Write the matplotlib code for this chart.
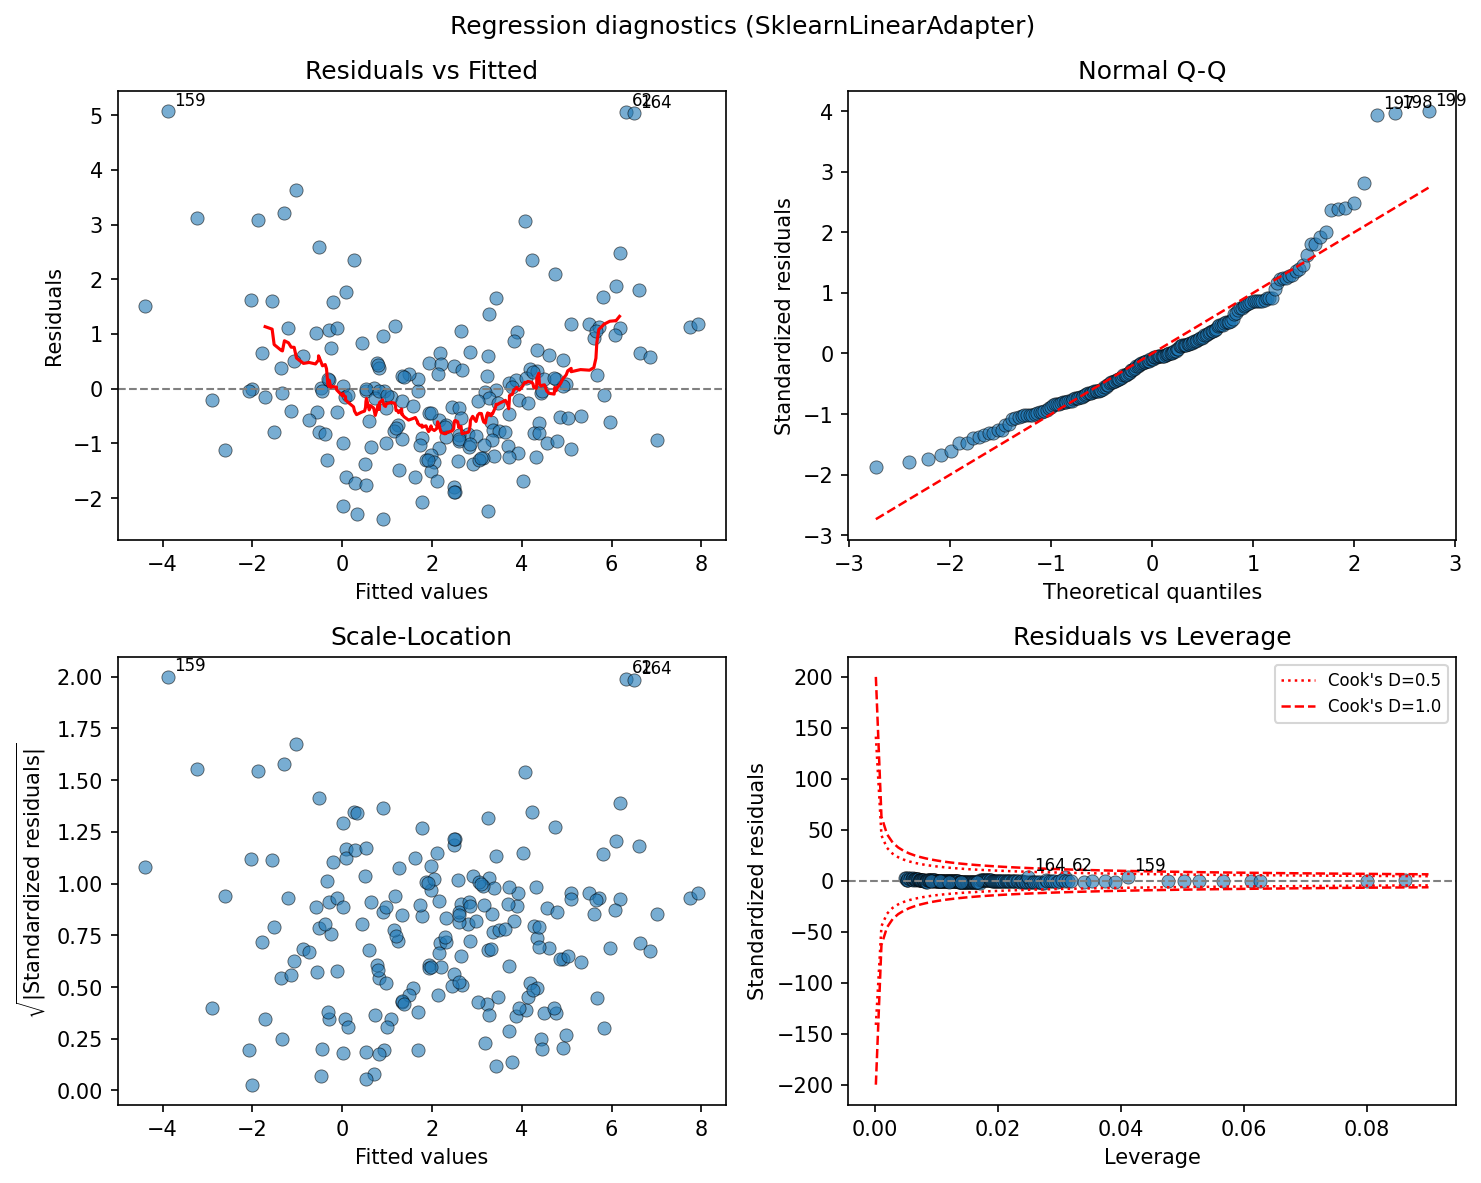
import numpy as np
import pandas as pd
import matplotlib
matplotlib.use("Agg")
import matplotlib.pyplot as plt
from statistics import NormalDist


fitted_rest = [
    -3.226, -1.866, -4.386, -2.022, -1.561, -1.019, -1.287, -0.528, 0.252, 0.074,
    -0.216, 4.065, 4.221, 4.734, 3.418, 3.262, 6.183, 6.094, 6.606, 5.797,
    5.099, 5.507, 5.715, 6.176, 5.603, 6.065, 7.737, 7.922, 6.622, 6.852,
    5.670, 5.826, 5.307, 5.960, 7.008, 5.099, 2.653, 3.886, 3.819, 2.854,
    2.169, 1.924, 2.201, 2.482, 2.669, 2.125, 3.240, 4.332, 4.600, 4.928,
    3.217, 4.192, 4.332, 3.724, 3.873, 4.096, 4.504, 4.765, 4.988, 4.912,
    3.427, 3.188, 4.430, 3.278, 3.463, 3.946, 4.132, 3.017, 3.708, 1.940,
    2.446, 2.593, 2.647, 2.163, 2.312, 3.316, 4.854, 5.023, 4.377, 4.265,
    4.392, 3.351, 3.501, 3.634, 2.809, 2.981, 2.609, 2.312, 1.777, 2.593,
    3.338, 4.555, 4.778, 3.686, 3.150, 2.832, 2.147, 1.732, 3.909, 3.389,
    3.724, 4.319, 3.128, 1.978, 1.866, 2.051, 2.571, 2.905, 3.055, 1.978,
    2.103, 4.020, 2.497, 2.520, 1.777, 3.240, -1.197, -0.595, -0.290, -0.127,
    -0.252, 0.430, 0.899, 1.182, -0.863, -1.070, -1.360, 0.765, 0.825, -0.290,
    -0.475, -1.331, 0.007, 0.067, 0.528, 0.700, 0.936, 1.086, 1.331, 1.583,
    1.679, 1.679, 1.478, 1.331, 0.736, 0.974, -1.137, -0.551, -0.736, -0.127,
    0.602, 1.233, 1.159, 1.322, -0.528, -0.379, 0.022, 0.631, 0.965, -0.350,
    0.497, 1.255, 1.628, 0.074, 0.274, 0.520, 0.022, 0.319, 0.899, -1.777,
    -2.000, -2.074, -1.717, -2.892, -2.602, -1.516, 0.800, 0.120, 0.830, 0.540,
    1.000, 1.200, 1.900, 2.600, 2.850, 3.100, 4.450, 4.720, 2.500, 2.280,
    1.970, 4.250, 3.790, -0.320, 1.380, -0.440, 5.650,
]
resid_rest = [
    3.113, 3.076, 1.507, 1.618, 1.600, 3.629, 3.210, 2.583, 2.343, 1.766,
    1.581, 3.057, 2.343, 2.098, 1.661, 1.365, 2.485, 1.876, 1.803, 1.679,
    1.181, 1.181, 1.120, 1.107, 0.935, 0.978, 1.120, 1.181, 0.659, 0.585,
    0.258, -0.116, -0.498, -0.614, -0.941, -1.107, 1.046, 1.028, 0.862, 0.677,
    0.659, 0.474, 0.456, 0.411, 0.332, 0.277, 0.596, 0.701, 0.609, 0.517,
    0.227, 0.351, 0.319, 0.105, 0.166, 0.197, 0.179, 0.179, 0.092, 0.055,
    -0.018, -0.068, -0.079, -0.172, -0.264, -0.203, -0.264, -0.234, -0.467, -0.448,
    -0.327, -0.356, -0.541, -0.572, -0.664, -0.603, -0.522, -0.541, -0.622, -0.817,
    -0.806, -0.756, -0.775, -0.788, -0.830, -0.862, -0.849, -0.891, -0.910, -0.959,
    -0.941, -1.002, -0.954, -1.046, -1.033, -1.065, -1.083, -1.033, -1.168, -1.231,
    -1.249, -1.249, -1.260, -1.205, -1.310, -1.341, -1.328, -1.384, -1.310, -1.507,
    -1.697, -1.697, -1.803, -1.895, -2.066, -2.232, 1.107, 1.015, 1.070, 1.107,
    0.738, 0.830, 0.954, 1.138, 0.596, 0.504, 0.382, 0.474, 0.382, 0.153,
    0.006, -0.079, 0.042, -0.153, -0.045, 0.008, -0.050, -0.153, -0.234, -0.314,
    -0.050, 0.185, 0.271, 0.240, -0.172, -0.345, -0.400, -0.419, -0.572, -0.430,
    -0.590, -0.664, -0.769, -0.923, -0.788, -0.830, -1.002, -1.065, -1.002, -1.310,
    -1.371, -1.482, -1.618, -1.618, -1.729, -1.753, -2.140, -2.293, -2.386, 0.659,
    0.001, -0.050, -0.153, -0.203, -1.125, -0.799, 0.430, -0.120, -0.040, -0.004,
    -0.120, -0.720, -1.300, -0.920, -1.020, -1.270, -0.050, 0.200, -1.880, -0.700,
    -0.450, 0.300, 0.024, 0.180, 0.220, -0.050, 1.050,
]
leverage_rest = [
    4.8, 5.0, 5.1, 5.2, 5.3, 5.4, 5.6, 5.7, 5.9, 6.0,
    6.1, 6.2, 6.3, 6.4, 6.5, 6.6, 6.7, 6.8, 6.9, 7.0,
    7.1, 7.2, 7.2, 7.3, 7.4, 7.5, 7.6, 7.7, 7.8, 7.9,
    8.0, 8.1, 8.2, 8.3, 8.3, 8.4, 8.5, 8.6, 8.7, 8.8,
    8.9, 9.0, 9.1, 9.2, 9.3, 9.4, 9.4, 9.5, 9.6, 9.7,
    9.8, 9.9, 10.0, 10.1, 10.2, 10.3, 10.4, 10.5, 10.6, 10.7,
    10.8, 10.9, 11.0, 11.1, 11.2, 11.3, 11.4, 11.5, 11.6, 11.7,
    11.8, 11.9, 12.0, 12.1, 12.2, 12.3, 12.4, 12.5, 12.6, 12.7,
    12.8, 12.9, 13.0, 13.1, 13.2, 13.3, 13.4, 13.5, 13.6, 13.7,
    13.8, 13.9, 14.0, 14.2, 14.3, 14.4, 14.5, 14.6, 14.8, 14.9,
    15.0, 15.1, 15.2, 15.4, 15.5, 15.6, 15.8, 15.9, 16.0, 16.1,
    16.3, 16.4, 16.6, 16.7, 16.8, 17.0, 17.1, 17.3, 17.4, 17.5,
    17.7, 17.8, 18.0, 18.1, 18.3, 18.4, 18.6, 18.7, 18.9, 19.0,
    19.2, 19.3, 19.5, 19.7, 19.8, 20.0, 20.2, 20.3, 20.5, 20.7,
    20.9, 21.0, 21.2, 21.4, 21.6, 21.8, 22.0, 22.2, 22.4, 22.6,
    22.8, 23.0, 23.2, 23.5, 23.7, 23.9, 24.1, 24.4, 24.6, 24.9,
    25.1, 25.4, 25.6, 25.9, 26.2, 26.5, 26.8, 27.1, 27.4, 27.7,
    28.0, 28.4, 28.7, 29.1, 29.5, 29.9, 30.3, 30.8, 31.3, 31.9,
    9.0, 10.5, 12.0, 14.0, 16.5,
    34.0, 35.3, 37.3, 39.0, 47.6, 50.3, 52.7, 56.5, 61.1, 62.6, 80.0, 86.2,
]

# the three flagged observations
outlier_idx = [62, 159, 164]
outlier_fitted = [6.310, -3.873, 6.495]
outlier_resid = [5.055, 5.068, 5.031]
outlier_lev = [30.9, 41.1, 24.8]

n_params = 4
cook_levels = [0.5, 1.0]
cook_styles = [':', '--']

fitted = np.array(fitted_rest)
resid = np.array(resid_rest)
lev = np.array(leverage_rest)
for i, fv, rv, lv in zip(outlier_idx, outlier_fitted, outlier_resid, outlier_lev):
    fitted = np.insert(fitted, i, fv)
    resid = np.insert(resid, i, rv)
    lev = np.insert(lev, i, lv)
lev = lev * 1e-3
n = len(resid)

sigma = np.sqrt(np.sum(resid ** 2) / (n - n_params))
std_resid = resid / (sigma * np.sqrt(1 - lev))
top = np.argsort(np.abs(std_resid))[-3:]

pt_kw = dict(s=40, alpha=0.6, edgecolors='k', linewidths=0.4)
ann_kw = dict(xytext=(3, 3), textcoords='offset points', fontsize=8)

fig, axs = plt.subplots(2, 2, figsize=(10, 8), dpi=150)

# Residuals vs Fitted
ax = axs[0, 0]
ax.scatter(fitted, resid, **pt_kw)
ax.axhline(0, color='gray', linestyle='--', linewidth=1)
order = np.argsort(fitted)
smooth = pd.Series(resid[order]).rolling(20, center=True).mean()
ax.plot(fitted[order], smooth, color='red', linewidth=1.5)
for i in top:
    ax.annotate(str(i), (fitted[i], resid[i]), **ann_kw)
ax.set_xlabel('Fitted values')
ax.set_ylabel('Residuals')
ax.set_title('Residuals vs Fitted')

# Normal Q-Q
ax = axs[0, 1]
sorted_std = np.sort(std_resid)
nd = NormalDist()
theo = np.array([nd.inv_cdf((k - 0.375) / (n + 0.25)) for k in range(1, n + 1)])
ax.scatter(theo, sorted_std, **pt_kw)
ax.plot([theo.min(), theo.max()], [theo.min(), theo.max()], 'r--', linewidth=1.2)
for k in range(n - 3, n):
    ax.annotate(str(k), (theo[k], sorted_std[k]), **ann_kw)
ax.set_xlabel('Theoretical quantiles')
ax.set_ylabel('Standardized residuals')
ax.set_title('Normal Q-Q')

# Scale-Location
ax = axs[1, 0]
sqrt_std = np.sqrt(np.abs(std_resid))
ax.scatter(fitted, sqrt_std, **pt_kw)
for i in top:
    ax.annotate(str(i), (fitted[i], sqrt_std[i]), **ann_kw)
ax.set_xlabel('Fitted values')
ax.set_ylabel(r'$\sqrt{|\mathrm{Standardized\ residuals}|}$')
ax.set_title('Scale-Location')

# Residuals vs Leverage
ax = axs[1, 1]
ax.scatter(lev, std_resid, **pt_kw)
ax.axhline(0, color='gray', linestyle='--', linewidth=1)
h = np.linspace(0.0001, 0.09, 100)
for d, ls in zip(cook_levels, cook_styles):
    bound = np.sqrt(d * n_params * (1 - h) / h)
    ax.plot(h, bound, color='red', linestyle=ls, linewidth=1.2, label=f"Cook's D={d}")
    ax.plot(h, -bound, color='red', linestyle=ls, linewidth=1.2)
for i in top:
    ax.annotate(str(i), (lev[i], std_resid[i]), **ann_kw)
ax.set_xlabel('Leverage')
ax.set_ylabel('Standardized residuals')
ax.set_title('Residuals vs Leverage')
ax.legend(loc='upper right', fontsize=8)

fig.suptitle('Regression diagnostics (SklearnLinearAdapter)')
plt.tight_layout()
plt.savefig('out.png', dpi=150, bbox_inches='tight')
